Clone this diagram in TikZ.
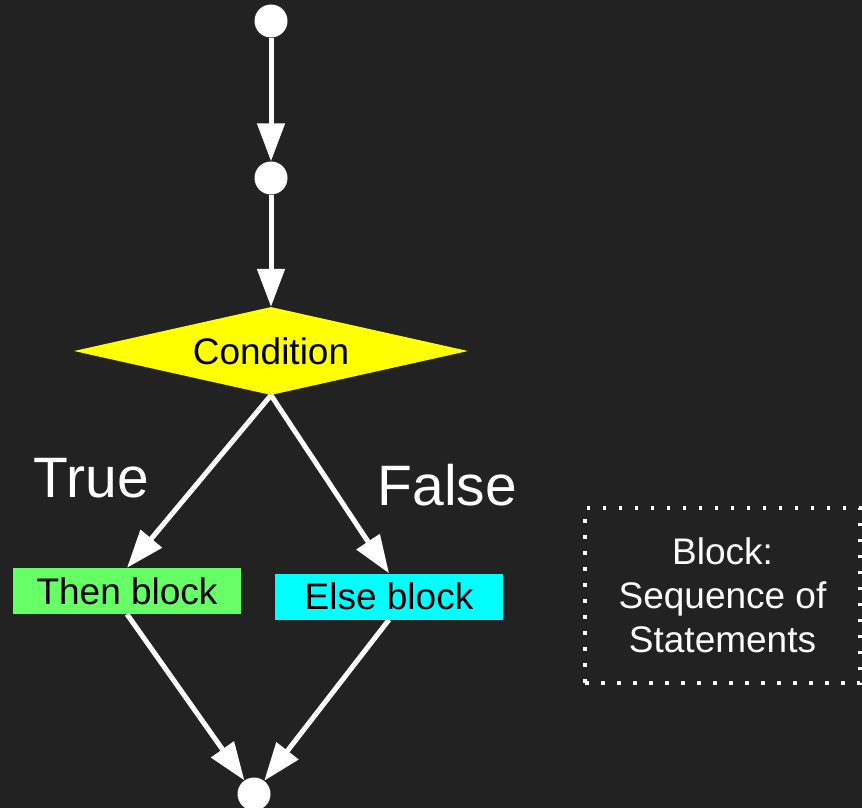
\documentclass[tikz,border=0pt]{standalone}
\usepackage{fontspec}
\setmainfont{Liberation Sans}
\usetikzlibrary{shapes.geometric,arrows.meta}
\definecolor{bgdark}{HTML}{222222}
\definecolor{thengreen}{HTML}{66FF66}
\definecolor{elsecyan}{HTML}{00FFFF}
\definecolor{condyellow}{HTML}{FFFF00}
\tikzset{
  dot/.style={circle,fill=white,minimum size=33pt,inner sep=0pt},
  arr/.style={white,line width=5pt,-{Triangle[length=38pt,width=27pt]}},
  cond/.style={diamond,aspect=4.5,fill=condyellow,inner sep=0pt,minimum width=394pt,minimum height=88pt,font=\fontsize{37}{44}\selectfont},
  blockbox/.style={rectangle,inner sep=0pt,minimum width=228pt,minimum height=46pt,font=\fontsize{37}{44}\selectfont},
  lbl/.style={white,anchor=base,inner sep=0pt,font=\fontsize{57}{68}\selectfont}
}
\begin{document}
\begin{tikzpicture}[x=1pt,y=-1pt]
      \fill[bgdark] (0,0) rectangle (862,808);
      \useasboundingbox (0,0) rectangle (862,808);
      \def\cx{271}
      \node[dot] (start) at (\cx,21) {};
      \node[dot] (mid) at (\cx,178) {};
      \node[cond] (cond) at (\cx,351) {Condition};
      \node[blockbox,fill=thengreen] (then) at (127,591) {Then block};
      \node[blockbox,fill=elsecyan] (else) at (389,596.5) {Else block};
      \node[dot] (end) at (254,794) {};
      \node[lbl] (lbltrue) at (91.5,497) {True};
      \node[lbl] (lblfalse) at (447.5,505) {False};
      % legend
      \node[draw=white,line width=3.5pt,dash pattern=on 3.5pt off 12.5pt,
            minimum width=275pt,minimum height=175pt,align=center,text=white,
            font=\fontsize{37}{44}\selectfont] (seq) at (722.5,595.5)
            {Block:\\Sequence of\\Statements};
      \draw[arr] (start) -- (mid);
      \draw[arr] (mid) -- (cond);
      \draw[arr] (cond.south) -- (then.north);
      \draw[arr] (cond.south) -- (else.north);
      \draw[arr] (then.south) -- (end);
      \draw[arr] (else.south) -- (end);
    \end{tikzpicture}
\end{document}
